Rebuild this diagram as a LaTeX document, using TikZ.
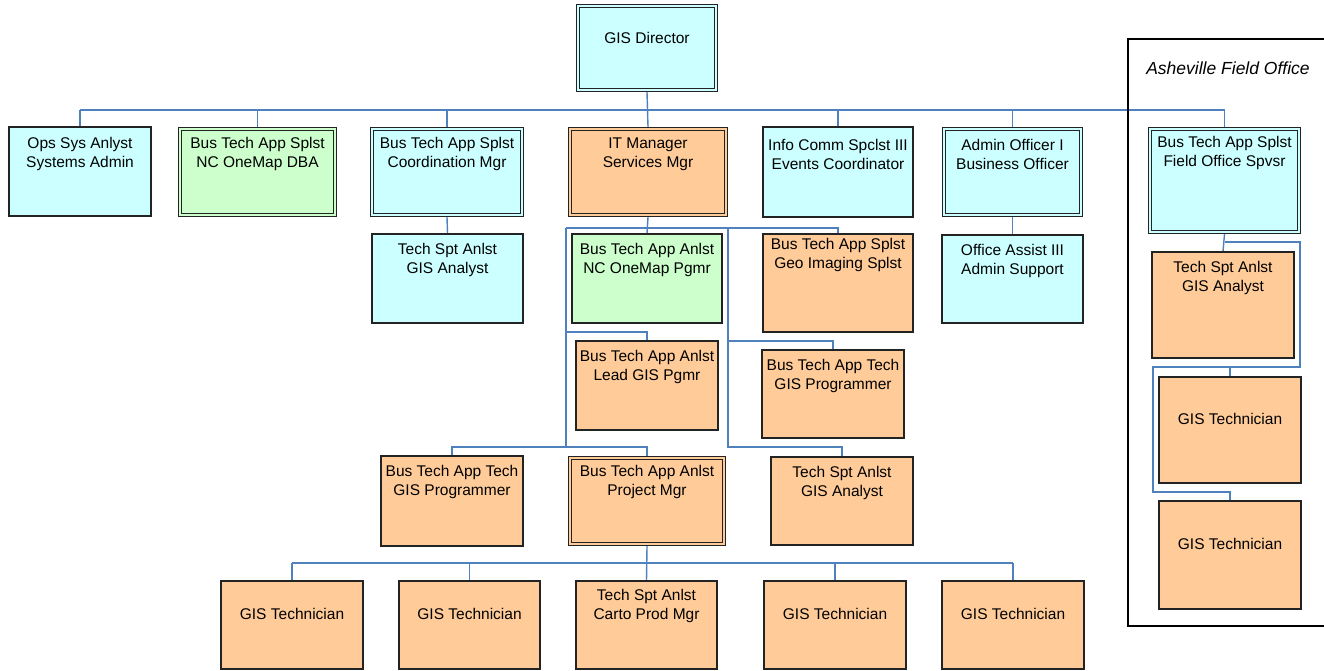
\documentclass[tikz,border=0pt]{standalone}
\usepackage{fontspec}
\setmainfont{Liberation Sans}
\usetikzlibrary{backgrounds}
\definecolor{cyf}{RGB}{204,255,255}
\definecolor{grf}{RGB}{204,255,204}
\definecolor{orf}{RGB}{255,204,153}
\definecolor{lnc}{RGB}{79,129,189}
\definecolor{bdc}{RGB}{35,35,35}
\tikzset{
  orgbox/.style={draw=bdc, line width=1.4pt, inner sep=0pt},
  cybox/.style={orgbox, fill=cyf},
  grbox/.style={orgbox, fill=grf},
  orbox/.style={orgbox, fill=orf},
  innerline/.style={draw=bdc, line width=1.3pt},
  txt/.style={align=center, font=\fontsize{15.5}{19}\selectfont, inner sep=0pt, text=black},
  conn/.style={draw=lnc, line width=1.4pt},
  frame/.style={draw=black, line width=2.4pt}
}
% single box: name, style, x1, y1, x2, y2, text, text offset
\newcommand\orgsingle[8]{%
  \node[#2, minimum width={#5pt-#3pt}, minimum height={#6pt-#4pt}] (#1) at ({(#3+#5)/2},{(#4+#6)/2}) {};
  \node[txt] (#1-t) at ({(#3+#5)/2},{#4+#8}) {#7};}
% double-bordered box: same arguments
\newcommand\orgdouble[8]{%
  \node[#2, minimum width={#5pt-#3pt-1pt}, minimum height={#6pt-#4pt-1pt}] (#1) at ({(#3+#5)/2},{(#4+#6)/2}) {};
  \draw[innerline] ([shift={(3.6pt,-3.6pt)}]#1.north west) rectangle ([shift={(-3.6pt,3.6pt)}]#1.south east);
  \node[txt] (#1-t) at ({(#3+#5)/2},{#4+#8}) {#7};}
\begin{document}
\begin{tikzpicture}[x=1pt,y=-1pt]
\useasboundingbox (0,0) rectangle (1324,670);
% field office frame
\draw[frame] (1128,39) rectangle (1340,626);
\node[txt, font=\fontsize{17.5}{21}\selectfont\itshape] (fo) at (1228,68) {Asheville Field Office};
% boxes
\orgdouble{dir}{cybox}{576}{4}{718}{92}{GIS Director}{34}
\orgsingle{ops}{cybox}{9}{127}{151}{216}{Ops Sys Anlyst\\Systems Admin}{27}
\orgdouble{dba}{grbox}{178}{127}{337}{217}{Bus Tech App Splst\\NC OneMap DBA}{27}
\orgdouble{coord}{cybox}{370}{127}{524}{217}{Bus Tech App Splst\\Coordination Mgr}{27}
\orgdouble{itm}{orbox}{568}{127}{728}{217}{IT Manager\\Services Mgr}{27}
\orgsingle{info}{cybox}{763}{127}{913}{217}{Info Comm Spclst III\\Events Coordinator}{27}
\orgdouble{admin}{cybox}{942}{127}{1083}{217}{Admin Officer I\\Business Officer}{27}
\orgdouble{spv}{cybox}{1148}{127}{1301}{234}{Bus Tech App Splst\\Field Office Spvsr}{25.5}
\orgsingle{gisa}{cybox}{372}{234}{523}{323}{Tech Spt Anlst\\GIS Analyst}{26}
\orgsingle{pgmr}{grbox}{572}{234}{722}{323}{Bus Tech App Anlst\\NC OneMap Pgmr}{25.5}
\orgsingle{geo}{orbox}{763}{234}{913}{332}{Bus Tech App Splst\\Geo Imaging Splst}{20.5}
\orgsingle{oa}{cybox}{942}{235}{1083}{323}{Office Assist III\\Admin Support}{25.5}
\orgsingle{fgis}{orbox}{1152}{252}{1294}{358}{Tech Spt Anlst\\GIS Analyst}{25.5}
\orgsingle{lead}{orbox}{576}{341}{718}{430}{Bus Tech App Anlst\\Lead GIS Pgmr}{25.5}
\orgsingle{prog2}{orbox}{762}{350}{904}{438}{Bus Tech App Tech\\GIS Programmer}{25.5}
\orgsingle{ft1}{orbox}{1159}{377}{1301}{483}{GIS Technician}{42}
\orgsingle{prog1}{orbox}{381}{456}{523}{546}{Bus Tech App Tech\\GIS Programmer}{25.5}
\orgdouble{pm}{orbox}{568}{456}{726}{546}{Bus Tech App Anlst\\Project Mgr}{25.5}
\orgsingle{gisb}{orbox}{771}{457}{913}{545}{Tech Spt Anlst\\GIS Analyst}{25.5}
\orgsingle{ft2}{orbox}{1159}{501}{1301}{609}{GIS Technician}{43}
\orgsingle{t1}{orbox}{221}{581}{363}{669}{GIS Technician}{33}
\orgsingle{t2}{orbox}{399}{581}{540}{669}{GIS Technician}{33}
\orgsingle{carto}{orbox}{576}{581}{717}{669}{Tech Spt Anlst\\Carto Prod Mgr}{24.5}
\orgsingle{t4}{orbox}{764}{581}{906}{669}{GIS Technician}{33}
\orgsingle{t5}{orbox}{942}{581}{1084}{669}{GIS Technician}{33}
% connector levels
\coordinate (b1) at (648,110);
\coordinate (ls) at (566,228);
\coordinate (rs) at (728,228);
\coordinate (l3) at (0,332);
\coordinate (l3r) at (0,341);
\coordinate (l4) at (0,447);
\coordinate (b5) at (0,563);
\coordinate (fr) at (1300,242);
\coordinate (f2) at (0,367);
\coordinate (fl) at (1153,367);
\coordinate (f3) at (0,492);
\begin{scope}[on background layer]
  % top level
  \draw[conn] (dir.south) -- (itm.north);
  \draw[conn] (ops.north |- b1) -- (spv.north |- b1);
  \foreach \n in {ops,dba,coord,info,admin,spv}
    \draw[conn] (\n.north |- b1) -- (\n.north);
  \draw[conn] (coord.south) -- (gisa.north);
  \draw[conn] (admin.south) -- (oa.north);
  % IT manager subtree
  \draw[conn] (itm.south) -- (pgmr.north);
  \draw[conn] (ls) -- (rs) -- (geo.north |- rs) -- (geo.north);
  \draw[conn] (ls) -- (ls |- l4);
  \draw[conn] (ls |- l3) -- (lead.north |- l3) -- (lead.north);
  \draw[conn] (prog1.north) -- (prog1.north |- l4) -- (pm.north |- l4) -- (pm.north);
  \draw[conn] (rs) -- (rs |- l4) -- (gisb.north |- l4) -- (gisb.north);
  \draw[conn] (rs |- l3r) -- (prog2.north |- l3r) -- (prog2.north);
  % project manager subtree
  \draw[conn] (pm.south) -- (carto.north);
  \draw[conn] (t1.north |- b5) -- (t5.north |- b5);
  \foreach \n in {t1,t2,t4,t5}
    \draw[conn] (\n.north |- b5) -- (\n.north);
  % field office subtree
  \draw[conn] (spv.south) -- (fgis.north);
  \draw[conn] (spv.south |- fr) -- (fr) -- (fr |- f2) -- (ft1.north |- f2) -- (ft1.north);
  \draw[conn] (ft1.north |- f2) -- (fl) -- (fl |- f3) -- (ft2.north |- f3) -- (ft2.north);
\end{scope}
\end{tikzpicture}
\end{document}
